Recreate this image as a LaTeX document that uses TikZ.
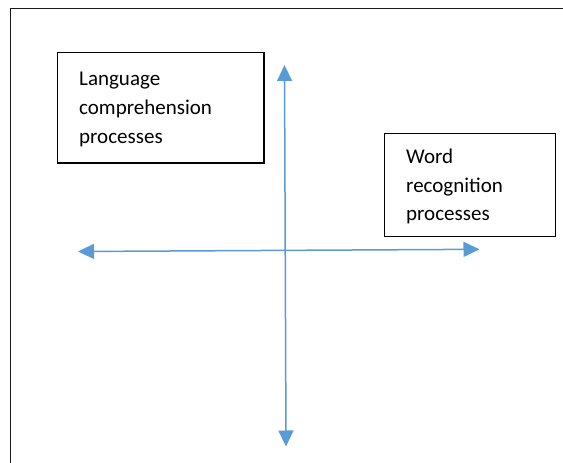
\documentclass[tikz,border=0pt]{standalone}
\usepackage{fontspec}
\setmainfont{Carlito}
\usetikzlibrary{arrows.meta}
\definecolor{arrblue}{HTML}{5B9BD5}
\definecolor{framegray}{HTML}{1A1A1A}
\tikzset{
  boxframe/.style={draw=black, line width=1.2pt, fill=none},
  txt/.style={anchor=base west, inner sep=0pt, font=\fontsize{21}{29}\selectfont},
  arr/.style={draw=arrblue, line width=1.5pt,
    {Triangle[length=16pt,width=15pt]}-{Triangle[length=16pt,width=15pt]}}
}
\begin{document}
\begin{tikzpicture}[x=1pt,y=-1pt]
\useasboundingbox (0,0) rectangle (563,463);
% outer frame (cropped)
\draw[framegray, line width=1.5pt] (10.5,463) -- (10.5,8.5) -- (563,8.5);
% boxes
\draw[boxframe] (57.7,52.7) rectangle (264,163);
\draw[boxframe] (384.3,133.3) rectangle (555.5,236.7);
\node[txt] (lc1) at (79,85) {Language};
\node[txt] (lc2) at (79,114.5) {comprehension};
\node[txt] (lc3) at (79,143.5) {processes};
\node[txt] (wr1) at (406,163.3) {Word};
\node[txt] (wr2) at (406,192) {recognition};
\node[txt] (wr3) at (406,220.5) {processes};
% axes
\coordinate (ytop) at (284.5,65);
\coordinate (ybot) at (286,446.5);
\coordinate (xleft) at (78,251.5);
\coordinate (xright) at (479.5,249.3);
\draw[arr] (ytop) -- (ybot);
\draw[arr] (xleft) -- (xright);
\end{tikzpicture}
\end{document}
